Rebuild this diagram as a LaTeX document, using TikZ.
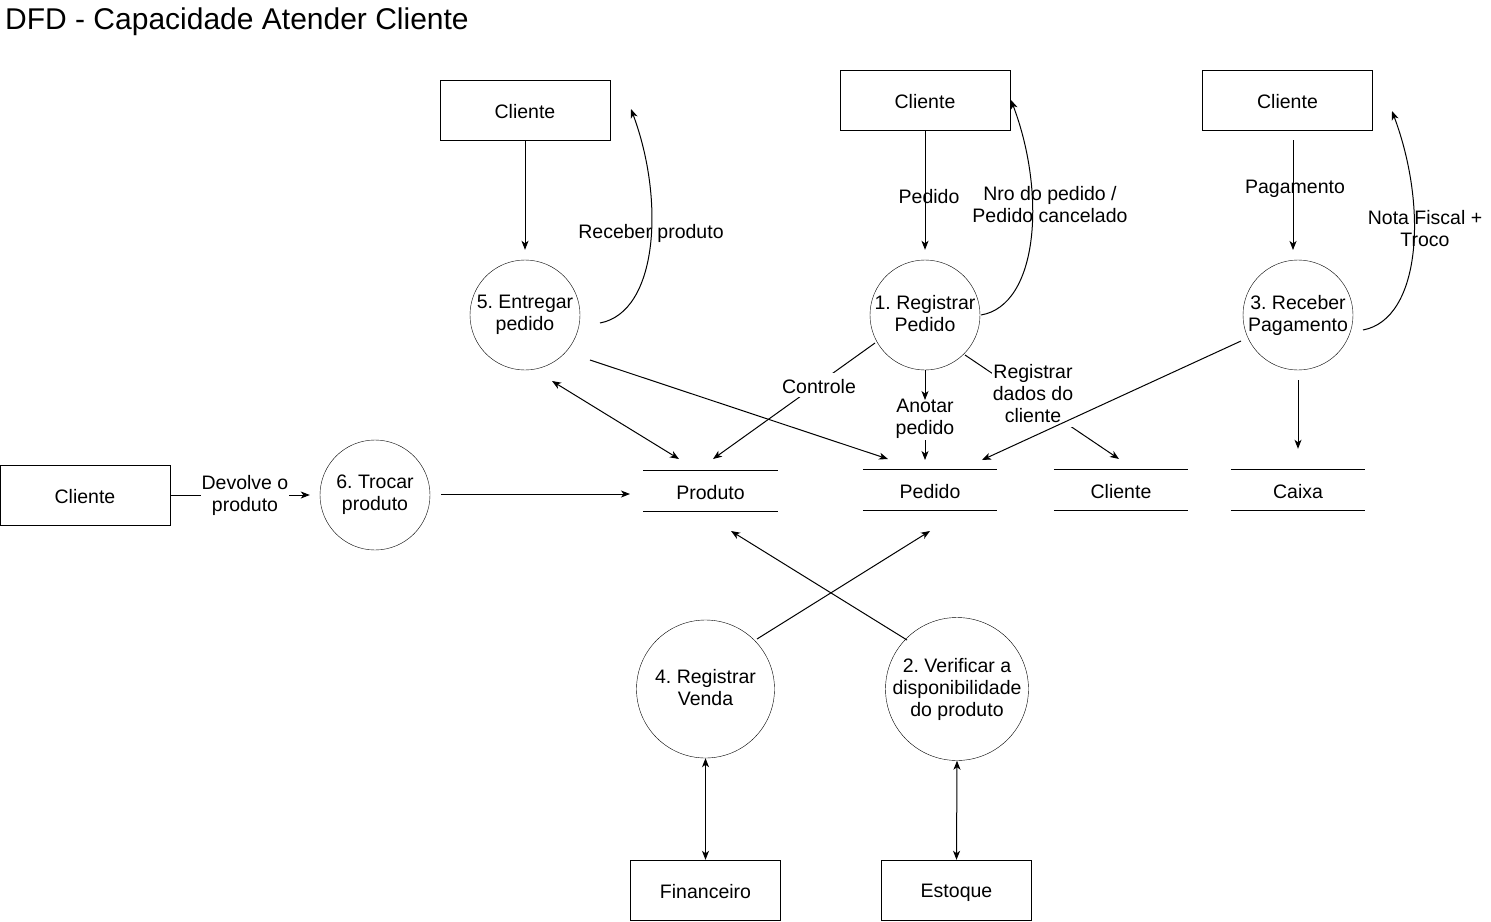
\documentclass[tikz,border=0pt]{standalone}
\usepackage{fontspec}
\setmainfont{Liberation Sans}
\usetikzlibrary{arrows.meta}
\frenchspacing
\tikzset{
  txt/.style={font=\fontsize{19.5}{22}\selectfont, align=center, inner sep=1pt,
    execute at begin node={\rule[-3pt]{0pt}{22pt}},
    execute at end node={\rule[-3pt]{0pt}{3pt}}},
  ent/.style={txt, draw, minimum width=170pt, minimum height=60pt, inner sep=0pt},
  entsm/.style={ent, minimum width=150pt},
  proc/.style={txt, draw, circle, minimum size=110pt, inner sep=0pt},
  procbig/.style={proc, minimum size=138pt},
  store/.style={txt, minimum width=134pt, minimum height=40pt, inner sep=0pt},
  lbl/.style={txt},
  lblw/.style={txt, fill=white},
  flow/.style={line width=1pt, -{Stealth[length=9pt,width=7pt,inset=2.5pt]}},
  dflow/.style={line width=1pt, {Stealth[length=9pt,width=7pt,inset=2.5pt]}-{Stealth[length=9pt,width=7pt,inset=2.5pt]}},
  plain/.style={line width=1pt},
}
\begin{document}
\begin{tikzpicture}[x=1pt,y=-1pt]
\useasboundingbox (0,0) rectangle (1491,921);
\fill[white] (0,0) rectangle (1491,921);

% title
\node[anchor=base west, inner sep=0pt, font=\fontsize{30}{34}\selectfont] (title) at (5,29.5) {DFD - Capacidade Atender Cliente};

% external entities
\node[ent] (c5) at (525,110) {Cliente};
\node[ent] (c1) at (925,100) {Cliente};
\node[ent] (c3) at (1287.5,100) {Cliente};
\node[ent] (c0) at (85,495) {Cliente};
\node[entsm] (fin) at (705.5,890) {Financeiro};
\node[entsm] (est) at (956.5,890) {Estoque};

% processes
\node[proc] (p5) at (525,315) {5. Entregar\\pedido};
\node[proc] (p1) at (925,315) {1. Registrar\\Pedido};
\node[proc] (p3) at (1298,315) {3. Receber\\Pagamento};
\node[proc] (p6) at (375,495) {6. Trocar\\produto};
\node[procbig] (p4) at (705.5,689) {4. Registrar\\Venda};
\node[procbig] (p2) at (957,689) {2. Verificar a\\disponibilidade\\do produto};

% data stores
\node[store] (sprod) at (710.5,491) {Produto};
\node[store] (sped) at (930,490) {Pedido};
\node[store] (scli) at (1121,490) {Cliente};
\node[store] (scx) at (1298,490) {Caixa};
\foreach \s in {sprod,sped,scli,scx}{
  \draw[plain] (\s.north west) -- (\s.north east);
  \draw[plain] (\s.south west) -- (\s.south east);
}

% free ends
\coordinate (r5s) at (600,323);
\coordinate (r5e) at (631,109);
\coordinate (r1s) at (981,315);
\coordinate (r1e) at (1011,100);
\coordinate (r3s) at (1363,330);
\coordinate (r3e) at (1392,111);
\coordinate (c3a) at (1293,140);
\coordinate (c3b) at (1293,250);
\coordinate (p3a) at (1241,341);
\coordinate (pedA) at (982,460);
\coordinate (p1a) at (875,343);
\coordinate (prodA) at (713,459);
\coordinate (p1b) at (965,355);
\coordinate (scliA) at (1119,459);
\coordinate (p5a) at (590,360);
\coordinate (pedB) at (888,459);
\coordinate (p5b) at (552,381);
\coordinate (prodB) at (679,459);
\coordinate (p6a) at (441,494);
\coordinate (prodC) at (630,494);
\coordinate (p4a) at (757,639);
\coordinate (pedC) at (930,531);
\coordinate (p2a) at (907,640);
\coordinate (prodD) at (731,531);
\coordinate (ano1) at (925,400);
\coordinate (ano2) at (925,440);
\coordinate (pedD) at (925,460);

% Cliente -> processes
\draw[flow, shorten >=10pt] (c5.south) -- (p5.north);
\draw[flow, shorten >=10pt] (c1.south) -- (p1.north);
\draw[flow] (c3a) -- (c3b);

% return curves
\draw[flow] (r5s) .. controls (658,312) and (665,200) .. (r5e);
\draw[flow] (r1s) .. controls (1039,305) and (1046,192) .. (r1e);
\draw[flow] (r3s) .. controls (1421,319) and (1428,207) .. (r3e);

% free labels
\node[lbl] (lrec) at (651,231) {Receber produto};
\node[lbl] (lped) at (929,195) {Pedido};
\node[lbl] (lnro) at (1050,206) {Nro do pedido /\\Pedido cancelado};
\node[lbl] (lpag) at (1295,186) {Pagamento};
\node[lbl] (lnf) at (1425,230) {Nota Fiscal +\\Troco};

% process 1 outputs
\draw[flow] (p1b) -- (scliA);
\node[lblw] (lreg) at (1033,395) {Registrar\\dados do\\cliente};
\draw[flow] (p1a) -- (prodA);
\node[lblw] (lctl) at (819,385) {Controle};
\node[lbl, inner sep=0pt] (lano) at (925,419) {Anotar\\pedido};
\draw[flow] (p1.south) -- (ano1);
\draw[flow] (ano2) -- (pedD);

% process 3
\draw[flow] (p3a) -- (pedA);
\draw[flow, shorten <=10pt, shorten >=21pt] (p3.south) -- (scx.north);

% process 5
\draw[flow] (p5a) -- (pedB);
\draw[dflow] (p5b) -- (prodB);

% process 6
\draw[flow, shorten >=10pt] (c0.east) -- (p6.west);
\node[lblw] (ldev) at (245,495) {Devolve o\\produto};
\draw[flow] (p6a) -- (prodC);

% bottom
\draw[flow] (p4a) -- (pedC);
\draw[flow] (p2a) -- (prodD);
\draw[dflow] (p4.south) -- (fin.north);
\draw[dflow] (p2.south) -- (est.north);
\end{tikzpicture}
\end{document}
